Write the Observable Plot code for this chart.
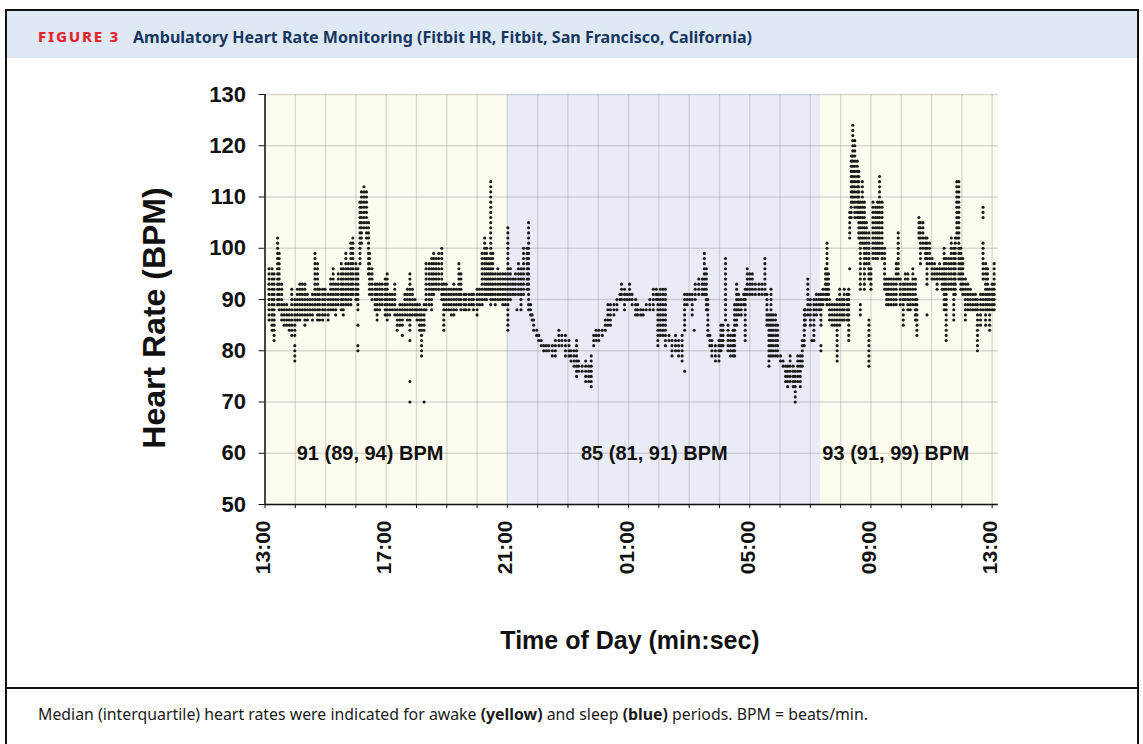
<!DOCTYPE html>
<html>
<head>
<meta charset="utf-8">
<script src="https://cdn.jsdelivr.net/npm/d3@7"></script>
<script src="https://cdn.jsdelivr.net/npm/@observablehq/plot@0.6"></script>
<style>
  html, body { margin: 0; padding: 0; background: #fff; }
  body { width: 1143px; height: 744px; overflow: hidden; position: relative; font-family: "Liberation Sans", Arial, sans-serif; }
  #frame { position: absolute; left: 5px; top: 9px; width: 1134px; height: 800px; border: 2px solid #111; box-sizing: border-box; }
  #header { position: absolute; left: 7px; top: 11px; width: 1130px; height: 47px; background: #dfe9f5; }
  #sep { position: absolute; left: 5px; top: 687px; width: 1134px; height: 2px; background: #111; }
  .fit { position: absolute; white-space: nowrap; transform-origin: 0 50%; }
  #figno { left: 38px; top: 27px; font-family: "Noto Sans", sans-serif; font-weight: 800; font-size: 14px; letter-spacing: 1.6px; color: #e3262d; line-height: 20px; }
  #title { left: 133px; top: 27px; font-family: "Noto Sans", sans-serif; font-weight: 700; font-size: 16px; color: #17375f; line-height: 20px; }
  #caption { left: 38px; top: 704px; font-family: "Noto Sans", sans-serif; font-size: 16px; color: #1a1a1a; line-height: 20px; }
  #caption b { font-weight: 700; }
  #chart { position: absolute; left: 0; top: 0; }
  .axtitle { position: absolute; white-space: nowrap; font-family: "Liberation Sans", Arial, sans-serif; font-weight: 700; color: #111; transform: translate(-50%, -50%); }
  #ytitle { left: 154px; top: 318px; font-size: 32px; transform: translate(-50%, -50%) rotate(-90deg); }
  #xtitle { left: 630px; top: 640px; font-size: 25px; }
</style>
</head>
<body>
<div id="frame"></div>
<div id="header"></div>
<div id="figno" class="fit" data-w="82">FIGURE 3</div>
<div id="title" class="fit" data-w="619">Ambulatory Heart Rate Monitoring (Fitbit HR, Fitbit, San Francisco, California)</div>
<div id="chart"></div>
<div id="ytitle" class="axtitle">Heart Rate (BPM)</div>
<div id="xtitle" class="axtitle">Time of Day (min:sec)</div>
<div id="sep"></div>
<div id="caption" class="fit" data-w="830">Median (interquartile) heart rates were indicated for awake <b>(yellow)</b> and sleep <b>(blue)</b> periods. BPM = beats/min.</div>
<script>
// ---- Data (minutes after 13:00; heart rate in BPM) ----
const periodName = ["awake", "sleep", "awake"];
const periodStart = [0, 480, 1101];
const periodEnd = [480, 1101, 1452];
const periodFill = ["#fdfbee", "#e9ebf7", "#fdfbee"];

const yTicks = [50, 60, 70, 80, 90, 100, 110, 120, 130];
const xTickMinutes = [0, 240, 480, 720, 960, 1200, 1440];
const xTickLabels = ["13:00", "17:00", "21:00", "01:00", "05:00", "09:00", "13:00"];
const hourMinutes = [0,60,120,180,240,300,360,420,480,540,600,660,720,780,840,900,960,1020,1080,1140,1200,1260,1320,1380,1440];

const medianText = ["91 (89, 94) BPM", "85 (81, 91) BPM", "93 (91, 99) BPM"];
const medianTime = [208, 771, 1249];
const medianBpm = [60, 60, 60];

// Each reading column: time, lowest and highest BPM recorded in that column
const colTime = [
  8,14,18,25,28,33,38,43,48,53,59,59,64,69,74,79,84,89,94,99,104,108,114,119,125,130,135,140,145,151,155,160,165,170,174,180,184,184,184,188,191,196,201,205,207,212,218,222,227,232,238,242,247,252,257,262,267,272,272,277,282,287,287,287,287,292,297,301,306,310,315,315,319,325,330,334,339,344,350,354,359,364,369,374,379,384,388,394,398,404,409,413,420,425,430,435,439,443,447,451,456,461,466,471,476,481,486,
  491,496,499,502,507,512,519,522,526,529,532,538,542,547,552,557,562,569,575,582,588,595,602,606,612,617,621,628,635,641,646,651,656,661,668,674,679,684,691,697,703,706,712,717,722,727,734,738,744,749,755,762,769,775,778,783,788,793,800,806,813,819,826,831,831,836,841,846,850,852,859,866,870,874,877,881,885,892,899,903,907,912,917,922,927,930,934,938,943,948,951,955,960,965,971,978,984,990,994,998,1002,1006,1011,1015,1021,1026,1031,1035,1040,1046,1050,1055,1060,1064,1068,1070,1075,1080,1083,1087,1092,1097,1101,1101,1105,1110,1113,1116,
  1118,1123,1128,1133,1133,1138,1143,1147,1153,1156,1158,1158,1161,1164,1168,1173,1176,1179,1179,1183,1187,1191,1196,1196,1200,1204,1209,1213,1217,1222,1227,1231,1235,1240,1245,1250,1254,1258,1264,1268,1273,1278,1283,1288,1291,1295,1298,1303,1308,1311,1311,1316,1321,1326,1331,1336,1341,1345,1349,1354,1359,1364,1367,1370,1374,1378,1382,1387,1392,1397,1402,1407,1411,1417,1422,1422,1422,1427,1431,1435,1440,1444
];
const colLo = [
  86,84,82,89,88,86,85,85,84,83,83,78,86,86,87,85,86,87,86,88,86,86,86,87,86,88,88,87,89,88,87,89,89,89,91,90,88,85,80,97,101,104,102,95,91,90,88,86,88,89,87,86,87,88,87,84,85,85,83,87,86,84,82,74,70,87,87,86,84,79,84,70,88,89,88,91,92,92,90,84,88,88,87,87,88,89,88,88,88,88,89,88,87,89,89,90,90,91,89,90,89,90,90,89,89,84,90,
  91,91,88,91,88,91,92,88,87,86,84,83,82,81,80,80,80,79,79,81,81,79,79,78,77,75,76,76,74,74,73,81,82,82,83,84,85,85,87,88,90,90,88,90,90,89,87,87,87,87,88,88,88,90,81,83,83,81,82,79,80,79,78,84,76,89,90,87,84,90,91,91,91,88,83,81,79,78,78,80,81,86,80,79,79,79,85,87,87,89,82,91,91,91,91,91,91,91,85,77,79,79,79,79,78,77,74,73,74,73,70,74,73,77,81,85,87,85,82,82,87,88,85,80,89,90,89,91,
  86,85,85,85,78,85,86,86,86,82,102,96,106,109,106,106,102,92,87,101,92,97,94,77,92,98,98,98,99,98,92,89,89,89,89,89,94,89,85,90,88,88,89,86,83,102,97,100,98,93,87,97,94,94,92,94,92,88,82,92,92,86,91,102,94,92,91,86,88,88,88,88,80,85,106,94,88,85,88,84,88,88
];
const colHi = [
  96,96,95,102,99,93,89,89,88,92,90,81,92,93,93,93,91,90,91,99,97,92,92,92,91,94,96,93,95,97,96,99,97,101,102,97,96,85,81,109,111,112,111,105,99,96,93,93,93,93,94,95,91,91,93,88,89,89,83,91,92,95,82,74,70,92,90,89,89,88,89,70,97,97,98,99,98,99,100,93,93,92,92,93,92,97,95,91,91,91,91,91,92,92,99,102,100,98,113,99,95,96,95,95,95,104,96,
  94,95,88,97,96,100,100,105,89,87,86,84,83,82,81,81,81,81,82,84,83,83,82,80,80,82,78,77,78,77,79,83,84,84,84,86,89,89,89,90,91,93,92,91,93,91,90,89,88,88,89,90,92,92,91,92,92,92,83,82,83,82,83,91,76,91,91,91,84,93,94,94,99,96,90,83,82,81,82,85,85,98,85,83,84,89,93,91,90,91,92,96,95,95,93,93,93,98,91,87,92,87,87,85,79,78,77,77,79,77,76,79,79,82,88,88,94,90,82,90,91,91,91,81,92,96,101,95,
  90,89,89,90,84,92,90,92,91,92,107,96,118,124,121,117,115,109,89,113,109,105,103,86,96,109,108,109,114,109,100,94,94,94,94,97,103,94,93,95,95,93,96,94,90,106,105,105,102,102,87,101,98,97,96,97,96,100,98,98,102,100,102,113,113,100,98,94,93,92,91,91,90,91,108,101,91,97,96,92,93,97
];

// ---- Build tables for the library ----
const periods = periodStart.map((s, i) => ({name: periodName[i], start: s, end: periodEnd[i], fill: periodFill[i]}));
const points = [];
colTime.forEach((t, i) => {
  for (let v = colLo[i]; v <= colHi[i]; v++) points.push({t, v});
});
const medians = medianText.map((label, i) => ({label, t: medianTime[i], v: medianBpm[i]}));
const xLabels = xTickLabels.map((label, i) => ({label, t: xTickMinutes[i]}));

const chart = Plot.plot({
  width: 1143,
  height: 680,
  marginLeft: 264.5,
  marginRight: 145.3,
  marginTop: 94,
  marginBottom: 176,
  x: {domain: [0, 1452], axis: null},
  y: {domain: [50, 130], axis: null},
  style: {background: "transparent", fontFamily: "'Liberation Sans', Arial, sans-serif", overflow: "visible", color: "#111"},
  marks: [
    Plot.rect(periods, {x1: "start", x2: "end", fill: "fill"}),
    Plot.ruleX(hourMinutes, {stroke: "#8a8a8a", strokeOpacity: 0.3, strokeWidth: 1.3}),
    Plot.ruleY(yTicks, {stroke: "#8a8a8a", strokeOpacity: 0.3, strokeWidth: 1.3}),
    Plot.dot(points, {x: "t", y: "v", r: 1.55, fill: "#1a1a1a", stroke: null}),
    Plot.text(medians, {x: "t", y: "v", text: "label", fontSize: 20, fontWeight: "bold", fill: "#111"}),
    Plot.ruleX([0], {stroke: "#111", strokeWidth: 1.5}),
    Plot.ruleY([50], {stroke: "#111", strokeWidth: 1.5}),
    Plot.axisY({ticks: yTicks, tickSize: 6, tickFormat: () => "", label: null, anchor: "left", stroke: "#111"}),
    Plot.axisX({ticks: hourMinutes, tickSize: 4, tickFormat: () => "", label: null, anchor: "bottom", stroke: "#111"}),
    Plot.text(yTicks, {y: d => d, text: d => String(d), frameAnchor: "left", dx: -19, textAnchor: "end", fontSize: 22, fontWeight: "bold", fill: "#111"}),
    Plot.text(xLabels, {x: "t", text: "label", frameAnchor: "bottom", dy: 16, dx: 5, rotate: -90, textAnchor: "end", fontSize: 21, fontWeight: "bold", fill: "#111", ariaLabel: "xtick-labels"})
  ]
});
document.getElementById("chart").appendChild(chart);
chart.querySelectorAll('g[aria-label="xtick-labels"] text').forEach(t => t.setAttribute("letter-spacing", "2.5"));

// fit header / caption text to the reference widths
document.querySelectorAll(".fit").forEach(el => {
  const w = el.getBoundingClientRect().width;
  const target = +el.dataset.w;
  if (w > 0) el.style.transform = `scaleX(${target / w})`;
});
</script>
</body>
</html>
